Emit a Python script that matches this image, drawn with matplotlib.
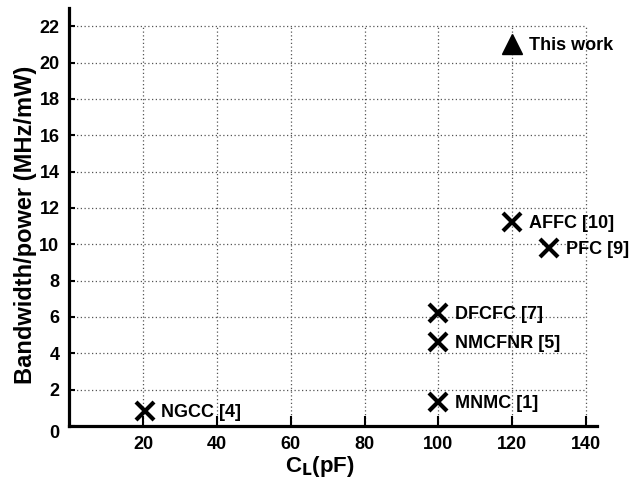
import matplotlib
matplotlib.use("Agg")
import matplotlib.pyplot as plt
from matplotlib.transforms import ScaledTranslation

plt.rcParams['font.family'] = ['Liberation Sans', 'DejaVu Sans']
plt.rcParams['font.weight'] = 'bold'

# data
names = ["NGCC [4]", "MNMC [1]", "NMCFNR [5]", "DFCFC [7]", "AFFC [10]", "PFC [9]"]
cl_pf = [20.5, 100, 100, 100, 120, 130]
bw_per_power = [0.8, 1.3, 4.6, 6.2, 11.2, 9.8]
this_name = "This work"
this_cl = 120
this_bw = 21.0
xticks = [20, 40, 60, 80, 100, 120, 140]
yticks = [0, 2, 4, 6, 8, 10, 12, 14, 16, 18, 20, 22]

fig = plt.figure(figsize=(6.34, 4.78), dpi=100)
ax = fig.add_axes([0.109, 0.109, 0.833, 0.874])
ax.set_xlim(0, 143)
ax.set_ylim(0, 23)

# grid limited to box 0..140, 0..22
for xv in xticks:
    ax.plot([xv, xv], [0, 22], color='#555555', linestyle=(0, (1, 2)), linewidth=0.9, zorder=1)
for yv in yticks[1:]:
    ax.plot([0, 140], [yv, yv], color='#555555', linestyle=(0, (1, 2)), linewidth=0.9, zorder=1)

ax.plot(cl_pf, bw_per_power, linestyle='none', marker='x', color='black',
        markersize=13, markeredgewidth=3, zorder=3)
ax.plot([this_cl], [this_bw], linestyle='none', marker='^', color='black',
        markersize=14, zorder=3)

for n, x, y in zip(names, cl_pf, bw_per_power):
    ax.annotate(n, (x, y), xytext=(12, -1), textcoords='offset points',
                fontsize=13, fontweight='bold', va='center', ha='left')
ax.annotate(this_name, (this_cl, this_bw), xytext=(12, -1), textcoords='offset points',
            fontsize=13, fontweight='bold', va='center', ha='left')

for s in ['top', 'right']:
    ax.spines[s].set_visible(False)
for s in ['left', 'bottom']:
    ax.spines[s].set_linewidth(2.3)

ax.set_xticks(xticks)
ax.set_yticks(yticks)
ax.tick_params(axis='x', direction='in', length=7, width=1.5, labelsize=13, pad=7)
ax.tick_params(axis='y', direction='in', length=4, width=1.5, labelsize=13, pad=7)
for lab in ax.get_xticklabels() + ax.get_yticklabels():
    lab.set_fontweight('bold')
# the "0" label sits a little below the axis line
ylabs = ax.get_yticklabels()
ylabs[0].set_transform(ylabs[0].get_transform() + ScaledTranslation(0, -6/100, fig.dpi_scale_trans))

ax.set_xlabel(r"C$_\mathbf{L}$(pF)", fontsize=16, fontweight='bold')
ax.xaxis.set_label_coords(0.475, -0.068)
ax.set_ylabel("Bandwidth/power (MHz/mW)", fontsize=17, fontweight='bold')
ax.yaxis.set_label_coords(-0.06, 0.48)

fig.savefig("out.png", dpi=100)
